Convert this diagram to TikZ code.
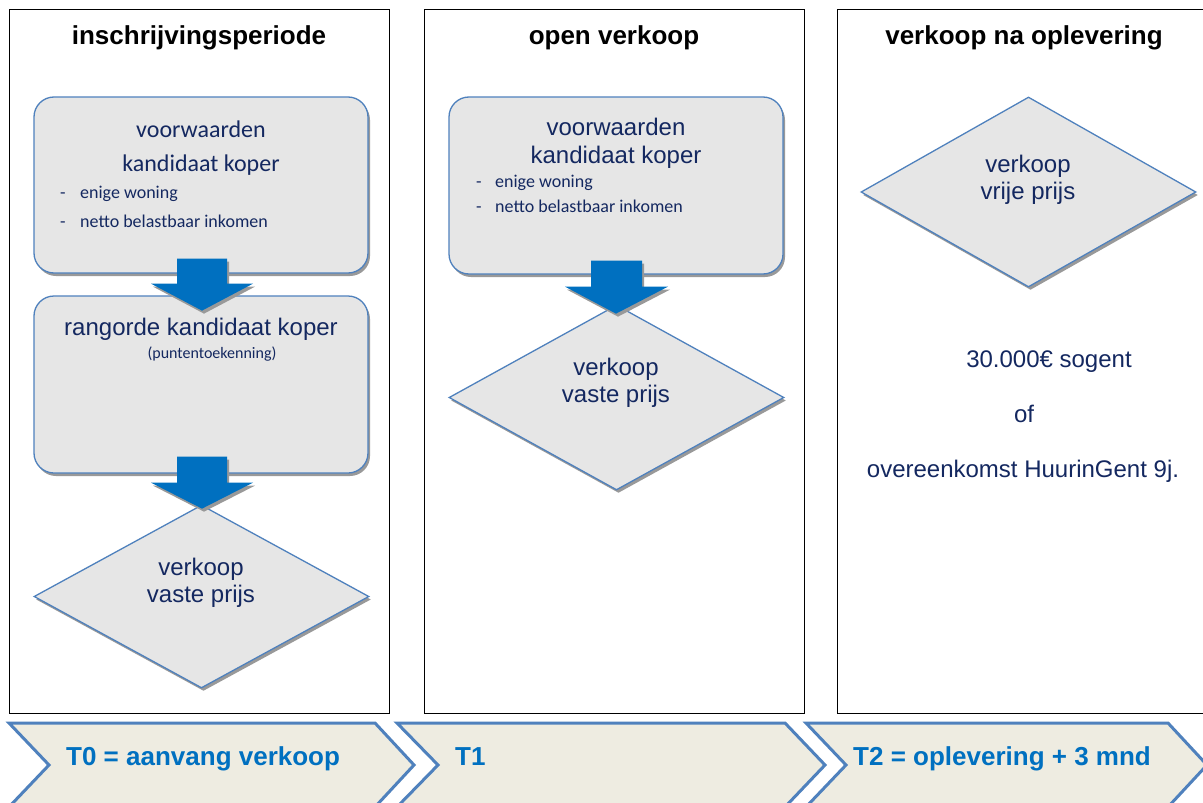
\documentclass[tikz,border=0pt]{standalone}
\usepackage{fontspec}
\setmainfont{Liberation Sans}
\newfontfamily\calfont{Carlito}
\usetikzlibrary{shapes.geometric,shadows,calc}
\definecolor{navy}{RGB}{20,40,96}
\definecolor{boxline}{RGB}{79,129,189}
\definecolor{boxfill}{RGB}{230,230,230}
\definecolor{arrowblue}{RGB}{0,112,192}
\definecolor{chevfill}{RGB}{238,236,225}
\begin{document}
\begin{tikzpicture}[x=1pt,y=-1pt,
  panel/.style={draw=black, line width=0.9pt, fill=white, inner sep=0, minimum width=380pt, minimum height=704pt},
  ttl/.style={font=\bfseries\fontsize{26}{30}\selectfont, inner sep=0, anchor=base},
  shad/.style={drop shadow={shadow xshift=2pt, shadow yshift=-3pt, fill=black!40, opacity=1}},
  roundbox/.style={shad, draw=boxline, line width=1.3pt, fill=boxfill, rounded corners=20pt, inner sep=0, minimum width=334pt},
  dia/.style={shad, diamond, draw=boxline, line width=1.3pt, fill=boxfill, inner sep=0, minimum width=335pt},
  blockarr/.style={shad, fill=arrowblue, draw=none},
  tA/.style={font=\fontsize{24}{28}\selectfont, text=navy, inner sep=0, anchor=base},
  tC/.style={font=\calfont\fontsize{24}{28}\selectfont, text=navy, inner sep=0, anchor=base},
  tL/.style={font=\calfont\fontsize{18}{22}\selectfont, text=navy, inner sep=0, anchor=base west},
  tS/.style={font=\calfont\fontsize{16}{20}\selectfont, text=navy, inner sep=0, anchor=base},
  chev/.style={draw=boxline, line width=3pt, fill=chevfill, line join=miter},
  chevtxt/.style={font=\bfseries\fontsize{26}{30}\selectfont, text=arrowblue, inner sep=0, anchor=base west}
]
\useasboundingbox (0,0) rectangle (1203,803);
\clip (0,0) rectangle (1203,803);
\fill[white] (0,0) rectangle (1203,803);

% panels
\node[panel] (p1) at (199,361) {};
\node[panel] (p2) at (614,361) {};
\node[panel] (p3) at (1027,361) {};
\node[ttl] (h1) at (199,44) {inschrijvingsperiode};
\node[ttl] (h2) at (614,44) {open verkoop};
\node[ttl] (h3) at (1024,44) {verkoop na oplevering};

% ---------- panel 1 ----------
\node[roundbox, minimum height=176pt] (b1) at (201,185) {};
\node[tC] (b1a) at (201,137) {voorwaarden};
\node[tC] (b1b) at (201,171) {kandidaat koper};
\node[tL] (b1c) at (60,198) {\makebox[20pt][l]{-}enige woning};
\node[tL] (b1d) at (60,227) {\makebox[20pt][l]{-}netto belastbaar inkomen};

\node[roundbox, minimum height=177pt] (b2) at (201,384.5) {};
\node[tA] (b2a) at (201,335) {rangorde kandidaat koper};
\node[tS] (b2b) at (212,358) {(puntentoekenning)};

\node[dia, minimum height=183pt] (d1) at (201.5,596.5) {};
\node[tA] (d1a) at (201,575) {verkoop};
\node[tA] (d1b) at (201,602) {vaste prijs};

\path[blockarr] (b1.south) ++(-24,-15) -- ++(50,0) -- ++(0,25) -- ++(26,0) -- ++(-51,27) -- ++(-51,-27) -- ++(26,0) -- cycle;
\path[blockarr] (b2.south) ++(-24,-17) -- ++(50,0) -- ++(0,26) -- ++(26,0) -- ++(-51,26) -- ++(-51,-26) -- ++(26,0) -- cycle;

% ---------- panel 2 ----------
\node[roundbox, minimum height=177pt] (b3) at (616,185.5) {};
\node[tA] (b3a) at (616,135) {voorwaarden};
\node[tA] (b3b) at (616,163) {kandidaat koper};
\node[tL] (b3c) at (476,187) {\makebox[19pt][l]{-}enige woning};
\node[tL] (b3d) at (476,212) {\makebox[19pt][l]{-}netto belastbaar inkomen};

\node[dia, minimum height=185pt] (d2) at (616.5,397.5) {};
\node[tA] (d2a) at (616,375) {verkoop};
\node[tA] (d2b) at (616,402) {vaste prijs};

\path[blockarr] (b3.south) ++(-25,-14) -- ++(51,0) -- ++(0,26) -- ++(26,0) -- ++(-52,27) -- ++(-51,-27) -- ++(26,0) -- cycle;

% ---------- panel 3 ----------
\node[dia, minimum height=190pt] (d3) at (1028.5,192) {};
\node[tA] (d3a) at (1028,172) {verkoop};
\node[tA] (d3b) at (1028,199) {vrije prijs};
\node[tA] (r1) at (1049,367) {30.000€ sogent};
\node[tA] (r2) at (1024,422) {of};
\node[tA] (r3) at (1023,477) {overeenkomst HuurinGent 9j.};

% ---------- timeline chevrons ----------
\draw[chev] (9,723) -- (375,723) -- (414,765) -- (375,807) -- (9,807) -- (49,765) -- cycle;
\draw[chev] (397,723) -- (785,723) -- (825,765) -- (785,807) -- (397,807) -- (438,765) -- cycle;
\draw[chev] (806,723) -- (1168,723) -- (1207,765) -- (1168,807) -- (806,807) -- (846,765) -- cycle;
\node[chevtxt] (c1) at (66,765) {T0 = aanvang verkoop};
\node[chevtxt] (c2) at (455,765) {T1};
\node[chevtxt] (c3) at (853,765) {T2 = oplevering + 3 mnd};
\end{tikzpicture}
\end{document}
